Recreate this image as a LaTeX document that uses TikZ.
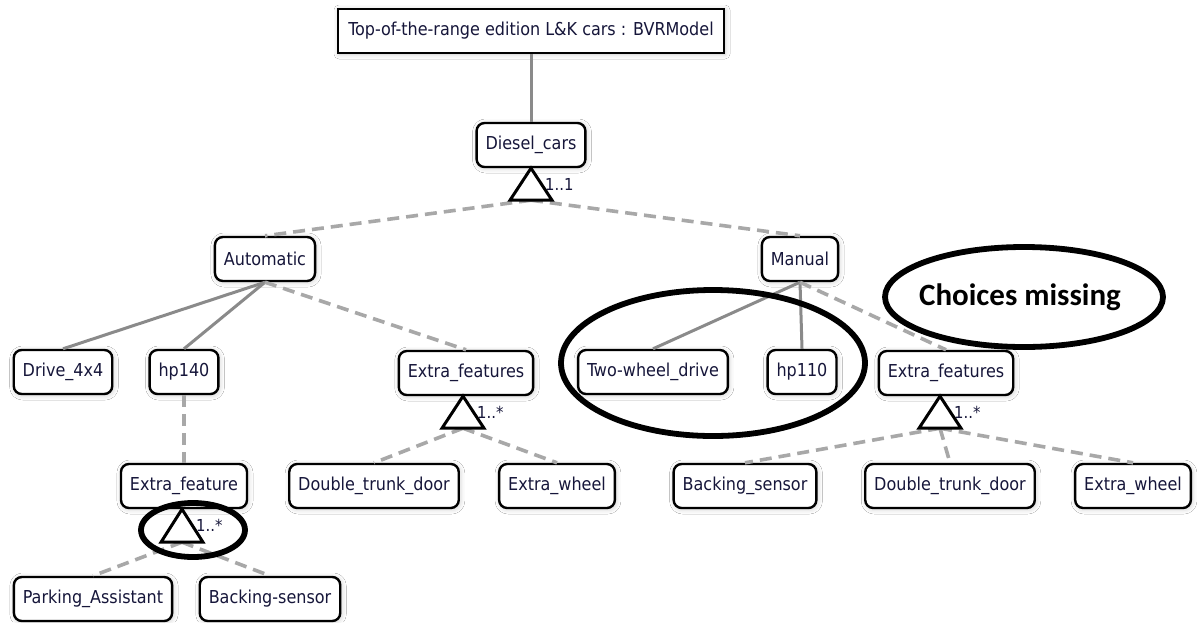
\documentclass[tikz,border=0pt]{standalone}
\usepackage{fontspec}
\setmainfont{DejaVu Sans Condensed}
\newfontfamily\notefont{Carlito}
\usetikzlibrary{calc,shapes.geometric,shadows.blur}

\definecolor{txt}{RGB}{22,22,58}
\definecolor{solidgray}{RGB}{138,138,138}
\definecolor{dashgray}{RGB}{168,168,168}

\newcommand\featfont{\fontsize{17.8}{21}\selectfont}
\newcommand\cardfont{\fontsize{16.5}{19}\selectfont}

\begin{document}
\begin{tikzpicture}[x=1pt,y=-1pt,
  halo/.style={blur shadow={shadow xshift=1pt,shadow yshift=-1pt,shadow blur radius=5pt,shadow opacity=22}},
  feat/.style={draw=black,line width=2.4pt,rounded corners=8pt,fill=white,
    minimum height=44pt,inner xsep=9pt,font=\featfont,text=txt,halo},
  rootbox/.style={draw=black,line width=2.8pt,fill=white,minimum height=44pt,
    minimum width=386pt,font=\featfont,text=txt,halo},
  mand/.style={draw=solidgray,line width=3pt},
  opt/.style={draw=dashgray,line width=3.6pt,dash pattern=on 12pt off 7pt},
  grp/.style={draw=black,line width=3pt,fill=white,line join=miter},
  card/.style={anchor=west,inner sep=0pt,text=txt,font=\cardfont},
  ring/.style={draw=black,line width=5.8pt}]

\useasboundingbox[fill=white] (0,0) rectangle (1198,622);

% feature model nodes
\node[rootbox] (root) at (531,31) {Top-of-the-range edition L\&K cars : BVRModel};
\node[feat] (diesel) at (531,145) {Diesel\_cars};
\node[feat] (auto) at (265,259) {Automatic};
\node[feat] (manual) at (800,259) {Manual};
\node[feat] (drive) at (63,372) {Drive\_4x4};
\node[feat] (hpl) at (184,372) {hp140};
\node[feat] (xfl) at (466,373) {Extra\_features};
\node[feat] (twd) at (653,372) {Two-wheel\_drive};
\node[feat] (hpr) at (802,372) {hp110};
\node[feat] (xfr) at (946,373) {Extra\_features};
\node[feat] (xf) at (184,486) {Extra\_feature};
\node[feat] (dtdl) at (374,486) {Double\_trunk\_door};
\node[feat] (ewl) at (557,486) {Extra\_wheel};
\node[feat] (bsr) at (745,486) {Backing\_sensor};
\node[feat] (dtdr) at (950,486) {Double\_trunk\_door};
\node[feat] (ewr) at (1133,486) {Extra\_wheel};
\node[feat] (park) at (93,599) {Parking\_Assistant};
\node[feat] (bsl) at (270,599) {Backing-sensor};

% group triangle base centres
\coordinate (g1) at ($(diesel.south)+(0,32)$);
\coordinate (g2) at ($(xfl.south)+(-3,32)$);
\coordinate (g3) at ($(xfr.south)+(-6,32)$);
\coordinate (g4) at ($(xf.south)+(-2,33)$);

% mandatory links
\draw[mand] (root.south) -- (diesel.north);
\draw[mand] (auto.south) -- (drive.north);
\draw[mand] (auto.south) -- (hpl.north);
\draw[mand] (manual.south) -- (twd.north);
\draw[mand] (manual.south) -- (hpr.north);

% optional and grouped links
\draw[opt] (g1) -- (auto.north);
\draw[opt] (g1) -- (manual.north);
\draw[opt] (auto.south) -- (xfl.north);
\draw[opt] (manual.south) -- (xfr.north);
\draw[opt] (hpl.south) -- (xf.north);
\draw[opt] (g2) -- (dtdl.north);
\draw[opt] (g2) -- (ewl.north);
\draw[opt] (g3) -- (bsr.north);
\draw[opt] (g3) -- (dtdr.north);
\draw[opt] (g3) -- (ewr.north);
\draw[opt] (g4) -- (park.north);
\draw[opt] (g4) -- (bsl.north);

% group triangles
\draw[grp] ($(g1)+(0,-32)$) -- ($(g1)+(-21,0)$) -- ($(g1)+(21,0)$) -- cycle;
\draw[grp] ($(g2)+(0,-32)$) -- ($(g2)+(-21,0)$) -- ($(g2)+(21,0)$) -- cycle;
\draw[grp] ($(g3)+(0,-32)$) -- ($(g3)+(-21,0)$) -- ($(g3)+(21,0)$) -- cycle;
\draw[grp] ($(g4)+(0,-33)$) -- ($(g4)+(-21,0)$) -- ($(g4)+(21,0)$) -- cycle;

% cardinalities
\node[card] (c1) at ($(g1)+(14,-16)$) {1..1};
\node[card] (c2) at ($(g2)+(14,-16)$) {1..*};
\node[card] (c3) at ($(g3)+(14,-16)$) {1..*};
\node[card] (c4) at ($(g4)+(14,-17)$) {1..*};

% annotations
\draw[ring] (193,530) ellipse [x radius=52, y radius=27];
\draw[ring] (713,363) ellipse [x radius=152, y radius=73];
\node[inner sep=0pt,font=\notefont\bfseries\fontsize{31}{34}\selectfont] (note) at (1020,297) {Choices missing};
\draw[ring] (1024,297) ellipse [x radius=139, y radius=50];

\end{tikzpicture}
\end{document}
